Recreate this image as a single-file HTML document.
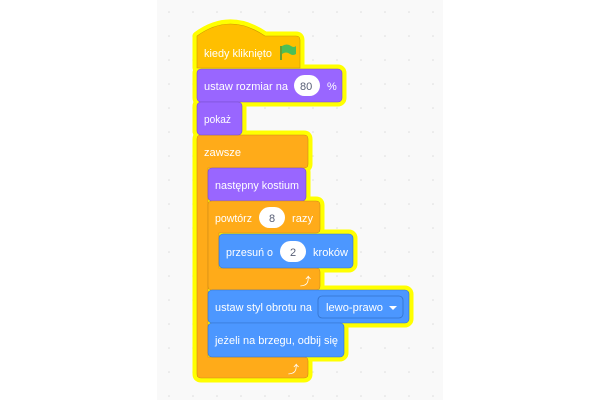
<!DOCTYPE html>
<html><head><meta charset="utf-8"><style>
html,body{margin:0;padding:0;background:#fff;width:600px;height:400px;overflow:hidden}
svg{display:block}
text{font-family:"Liberation Sans",sans-serif;font-size:11px;fill:#fff}
.g{fill:#575e75}
</style></head><body>
<svg width="600" height="400" viewBox="0 0 600 400">
<defs><pattern id="d" width="24" height="24" patternUnits="userSpaceOnUse" x="157" y="0"><circle cx="12" cy="12" r="0.8" fill="#ddd"/></pattern></defs>
<rect x="157" y="0" width="286" height="400" fill="#f9f9f9"/>
<rect x="157" y="0" width="286" height="400" fill="url(#d)"/>
<g id="shapes">
<path d="M197 36 Q230 12 265 36 L296 36 Q300 36 300 40 L300 68 L197 68 Z"/>
<rect x="197" y="69" width="145" height="33" rx="4"/>
<rect x="197" y="102" width="45" height="33" rx="4"/>
<path d="M201 135 L304 135 Q308 135 308 139 L308 164 Q308 168 304 168 L208 168 L208 357 L304 357 Q308 357 308 361 L308 374 Q308 378 304 378 L201 378 Q197 378 197 374 L197 139 Q197 135 201 135 Z"/>
<rect x="208" y="168" width="98" height="33" rx="4"/>
<path d="M212 201 L316 201 Q320 201 320 205 L320 229 Q320 233 316 233 L219 233 L219 268 L316 268 Q320 268 320 272 L320 286 Q320 290 316 290 L212 290 Q208 290 208 286 L208 205 Q208 201 212 201 Z"/>
<rect x="219" y="234" width="134" height="34" rx="4"/>
<rect x="208" y="290" width="201" height="33" rx="4"/>
<rect x="208" y="323" width="136" height="34" rx="4"/>
</g>
<use href="#shapes" fill="#ffff00" stroke="#ffff00" stroke-width="9" stroke-linejoin="round"/>
<path d="M197 36 Q230 12 265 36 L296 36 Q300 36 300 40 L300 68 L197 68 Z" fill="#ffbf00" stroke="#cc9900" stroke-width="0.6"/>
<text x="204" y="57" textLength="68" lengthAdjust="spacingAndGlyphs">kiedy kliknięto</text>
<path d="M281 46 L281 60" stroke="#45993d" stroke-width="1.6"/>
<path d="M282 46 Q287 43 291 46 Q294 48 296 46 L296 54 Q293 56 290 54 Q286 51 282 54 Z" fill="#4cbf56"/>
<path d="M201 135 L304 135 Q308 135 308 139 L308 164 Q308 168 304 168 L208 168 L208 357 L304 357 Q308 357 308 361 L308 374 Q308 378 304 378 L201 378 Q197 378 197 374 L197 139 Q197 135 201 135 Z" fill="#ffab19" stroke="#cf8b17" stroke-width="0.6"/>
<text x="204" y="156" textLength="37" lengthAdjust="spacingAndGlyphs">zawsze</text>
<text x="288" y="373" font-size="13">⤴</text>
<rect x="197" y="69" width="145" height="33" rx="4" fill="#9966ff" stroke="#774dcb" stroke-width="0.6"/>
<text x="204" y="90" textLength="84" lengthAdjust="spacingAndGlyphs">ustaw rozmiar na</text>
<rect x="294" y="75" width="26" height="21" rx="10.5" fill="#fff"/>
<text x="300" y="90" class="g">80</text>
<text x="327" y="90">%</text>
<rect x="197" y="102" width="45" height="33" rx="4" fill="#9966ff" stroke="#774dcb" stroke-width="0.6"/>
<text x="204" y="123" textLength="27" lengthAdjust="spacingAndGlyphs">pokaż</text>
<rect x="208" y="168" width="98" height="33" rx="4" fill="#9966ff" stroke="#774dcb" stroke-width="0.6"/>
<text x="215" y="189" textLength="84" lengthAdjust="spacingAndGlyphs">następny kostium</text>
<path d="M212 201 L316 201 Q320 201 320 205 L320 229 Q320 233 316 233 L219 233 L219 268 L316 268 Q320 268 320 272 L320 286 Q320 290 316 290 L212 290 Q208 290 208 286 L208 205 Q208 201 212 201 Z" fill="#ffab19" stroke="#cf8b17" stroke-width="0.6"/>
<text x="215" y="222" textLength="37" lengthAdjust="spacingAndGlyphs">powtórz</text>
<rect x="259" y="207" width="26" height="21" rx="10.5" fill="#fff"/>
<text x="269" y="222" class="g">8</text>
<text x="292" y="222" textLength="21" lengthAdjust="spacingAndGlyphs">razy</text>
<text x="300" y="285" font-size="13">⤴</text>
<rect x="219" y="234" width="134" height="34" rx="4" fill="#4c97ff" stroke="#3373cc" stroke-width="0.6"/>
<text x="226" y="256" textLength="47" lengthAdjust="spacingAndGlyphs">przesuń o</text>
<rect x="280" y="241" width="26" height="21" rx="10.5" fill="#fff"/>
<text x="290" y="256" class="g">2</text>
<text x="313" y="256" textLength="35" lengthAdjust="spacingAndGlyphs">kroków</text>
<rect x="208" y="290" width="201" height="33" rx="4" fill="#4c97ff" stroke="#3373cc" stroke-width="0.6"/>
<text x="215" y="311" textLength="97" lengthAdjust="spacingAndGlyphs">ustaw styl obrotu na</text>
<rect x="318" y="296" width="85" height="22" rx="4" fill="#4c97ff" stroke="#3373cc" stroke-width="0.8"/>
<text x="326" y="311" textLength="57" lengthAdjust="spacingAndGlyphs">lewo-prawo</text>
<path d="M389 306 L397 306 L393 310 Z" fill="#fff"/>
<rect x="208" y="323" width="136" height="34" rx="4" fill="#4c97ff" stroke="#3373cc" stroke-width="0.6"/>
<text x="215" y="344" textLength="123" lengthAdjust="spacingAndGlyphs">jeżeli na brzegu, odbij się</text>
</svg>
</body></html>
